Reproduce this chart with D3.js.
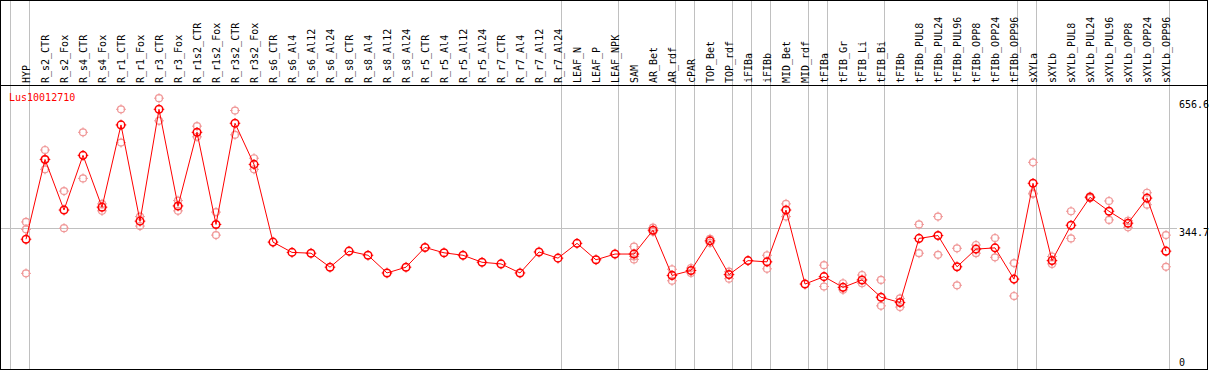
<!DOCTYPE html>
<html>
<head>
<meta charset="utf-8">
<script src="https://cdn.jsdelivr.net/npm/d3@7"></script>
<style>
  body { margin: 0; background: #fff; }
  svg text { font-family: "DejaVu Sans Mono", "Liberation Mono", monospace; font-size: 10px; }
</style>
</head>
<body>
<svg id="chart" width="1209" height="370"></svg>
<script>
// gene shown
var geneName = "Lus10012710";

// sample names (one column each)
var categories = ["HYP", "R_s2_CTR", "R_s2_Fox", "R_s4_CTR", "R_s4_Fox", "R_r1_CTR", "R_r1_Fox",
    "R_r3_CTR", "R_r3_Fox", "R_r1s2_CTR", "R_r1s2_Fox", "R_r3s2_CTR", "R_r3s2_Fox",
    "R_s6_CTR", "R_s6_Al4", "R_s6_Al12", "R_s6_Al24", "R_s8_CTR", "R_s8_Al4", "R_s8_Al12", "R_s8_Al24",
    "R_r5_CTR", "R_r5_Al4", "R_r5_Al12", "R_r5_Al24", "R_r7_CTR", "R_r7_Al4", "R_r7_Al12", "R_r7_Al24",
    "LEAF_N", "LEAF_P", "LEAF_NPK", "SAM", "AR_Bet", "AR_rdf", "cPAR", "TOP_Bet", "TOP_rdf",
    "iFIBa", "iFIBb", "MID_Bet", "MID_rdf", "tFIBa", "tFIB_Gr", "tFIB_Li", "tFIB_Bi", "tFIBb",
    "tFIBb_PUL8", "tFIBb_PUL24", "tFIBb_PUL96", "tFIBb_OPP8", "tFIBb_OPP24", "tFIBb_OPP96",
    "sXYLa", "sXYLb", "sXYLb_PUL8", "sXYLb_PUL24", "sXYLb_PUL96", "sXYLb_OPP8", "sXYLb_OPP24", "sXYLb_OPP96"];

// mean expression per sample
var means = [318, 512, 389, 522, 396, 596, 362,
    634, 399, 578, 354, 600, 500,
    311, 286, 284, 250, 289, 279, 236, 250,
    298, 285, 279, 262, 258, 236, 287, 272,
    308, 268, 282, 282, 340, 230, 242, 314, 232,
    266, 263, 389, 209, 227, 201, 219, 177, 164,
    320, 327, 251, 294, 297, 221,
    454, 266, 352, 420, 386, 357, 418, 289];

// individual replicates per sample
var replicates = [[360, 342, 235], [535, 513, 488], [435, 345], [578, 466], [404, 387], [634, 553], [373, 350],
    [661, 606], [412, 387], [593, 567], [384, 328], [631, 572], [515, 488],
    [], [], [], [], [], [], [], [],
    [], [], [], [], [], [], [], [],
    [], [], [], [300, 276, 269], [346, 336], [245, 217], [248, 236], [319, 309], [239, 222],
    [], [279, 246], [404, 373], [], [255, 203], [211, 195], [231, 211], [219, 156], [174, 153],
    [354, 284], [373, 280], [296, 206], [304, 284], [321, 274], [260, 180],
    [505, 430, 428], [276, 258], [386, 320], [422, 418], [411, 365], [363, 347], [431, 402], [328, 251]];

// group separators drawn after these samples
var groupEnds = ["HYP", "R_r7_Al24", "LEAF_NPK", "AR_rdf", "cPAR", "TOP_rdf", "iFIBa", "iFIBb",
    "MID_rdf", "tFIBa", "tFIB_Bi", "tFIBb_OPP96", "sXYLa", "sXYLb_OPP96"];

// y labels: 0, reference line, max
var yTicks = [0, 344.7, 656.6];
var refLine = 344.7;

var W = 1209, H = 370;
var svg = d3.select("#chart");

var x = d3.scaleBand().domain(categories).range([11, 1170]);
var y = d3.scaleLinear().domain([0, 656.6]).range([370, 100]);
var cx = function(d) { return x(d) + 15; };

var red = "#ff0000";
var pink = "#f09898";

// grid lines
var grid = svg.append("g").attr("stroke", "#c0c0c0").attr("stroke-width", 1);
var sepX = [x(categories[0])].concat(groupEnds.map(function(d) { return x(d) + x.bandwidth(); }));
grid.selectAll("line.v").data(sepX).enter().append("line")
    .attr("x1", function(d) { return Math.round(d) - 0.5; })
    .attr("x2", function(d) { return Math.round(d) - 0.5; })
    .attr("y1", 0).attr("y2", H);
grid.append("line")
    .attr("x1", 1).attr("x2", 1177)
    .attr("y1", Math.round(y(refLine)) + 0.5).attr("y2", Math.round(y(refLine)) + 0.5);

// frame + header line
svg.append("rect").attr("x", 0.5).attr("y", 0.5).attr("width", 1207).attr("height", 369)
    .attr("fill", "none").attr("stroke", "#000");
svg.append("line").attr("x1", 0).attr("x2", 1208).attr("y1", 85.5).attr("y2", 85.5).attr("stroke", "#000");

// header labels
svg.append("g").selectAll("text").data(categories).enter().append("text")
    .attr("transform", function(d) { return "translate(" + (cx(d) + 3.5) + ",83) rotate(-90)"; })
    .attr("text-anchor", "start")
    .text(function(d) { return d; });

// y labels
svg.append("g").selectAll("text").data(yTicks).enter().append("text")
    .attr("x", 1179)
    .attr("y", function(d) { return d === 0 ? y(d) - 4 : y(d); })
    .attr("dy", function(d) { return d === 0 ? 0 : "0.78em"; })
    .attr("fill", "#000")
    .text(function(d) { return d; });

// gene name
svg.append("text").attr("x", 9).attr("y", 101).attr("fill", red).text(geneName);

// marker: circle with small cross ticks
function marker(g, color, r, sw) {
    g.append("circle").attr("r", r).attr("fill", "none").attr("stroke", color).attr("stroke-width", sw);
    g.append("path")
        .attr("d", "M0," + (-r - 1.5) + "V" + (-r + 1) + "M0," + (r - 1) + "V" + (r + 1.5) +
                   "M" + (-r - 1.5) + ",0H" + (-r + 1) + "M" + (r - 1) + ",0H" + (r + 1.5))
        .attr("stroke", color).attr("stroke-width", 1).attr("fill", "none");
}

// replicates
var reps = [];
categories.forEach(function(c, i) {
    replicates[i].forEach(function(v) { reps.push({cat: c, v: v}); });
});
svg.append("g").selectAll("g").data(reps).enter().append("g")
    .attr("transform", function(d) { return "translate(" + cx(d.cat) + "," + y(d.v) + ")"; })
    .each(function() { marker(d3.select(this), pink, 3.5, 1.2); });

// mean line
var meanData = categories.map(function(c, i) { return {cat: c, v: means[i]}; });
svg.append("path").datum(meanData)
    .attr("fill", "none").attr("stroke", red).attr("stroke-width", 1)
    .attr("d", d3.line().x(function(d) { return cx(d.cat); }).y(function(d) { return y(d.v); }));

svg.append("g").selectAll("g").data(meanData).enter().append("g")
    .attr("transform", function(d) { return "translate(" + cx(d.cat) + "," + y(d.v) + ")"; })
    .each(function() { marker(d3.select(this), red, 3.8, 1.5); });
</script>
</body>
</html>
